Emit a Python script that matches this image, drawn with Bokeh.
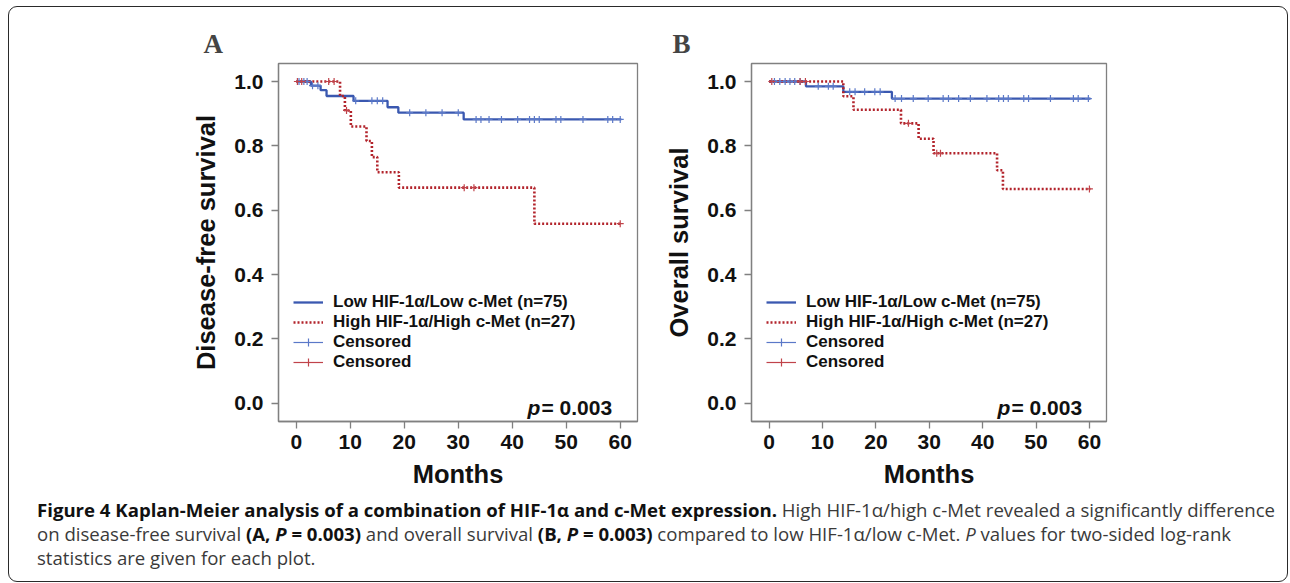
import math
from bokeh.plotting import figure
from bokeh.models import (Legend, LegendItem, Label, Div, Spacer,
                          FixedTicker, NumeralTickFormatter, Range1d)
from bokeh.layouts import column, row
from bokeh.embed import file_html
from bokeh.resources import INLINE

# ---------------- data ----------------
month_ticks = [0, 10, 20, 30, 40, 50, 60]
surv_ticks = [0.0, 0.2, 0.4, 0.6, 0.8, 1.0]

label_low = "Low HIF-1\u03b1/Low c-Met (n=75)"
label_high = "High HIF-1\u03b1/High c-Met (n=27)"
label_cens = "Censored"
p_text = "= 0.003"

# Panel A: disease-free survival
A_low_t = [0, 2.7, 4.5, 5.6, 10.6, 16.9, 18.9, 31.0, 60.2]
A_low_s = [1.0, 0.987, 0.973, 0.955, 0.940, 0.920, 0.903, 0.882, 0.882]
A_low_ct = [0.5, 1.4, 2.0, 3.0, 4.0, 11.0, 14.0, 15.0, 16.0, 21.0, 24.0, 27.0, 30.0,
            33.3, 34.2, 35.7, 38.0, 41.0, 43.2, 44.1, 45.0, 48.1, 49.0, 53.1, 57.7, 58.6, 60.0]
A_low_cs = [1.0, 1.0, 1.0, 0.987, 0.987, 0.940, 0.940, 0.940, 0.940, 0.903, 0.903, 0.903, 0.903,
            0.882, 0.882, 0.882, 0.882, 0.882, 0.882, 0.882, 0.882, 0.882, 0.882, 0.882, 0.882, 0.882, 0.882]
A_high_t = [0, 8.1, 9.0, 10.1, 13.0, 14.0, 15.0, 19.0, 44.1, 60.2]
A_high_s = [1.0, 0.955, 0.910, 0.860, 0.815, 0.765, 0.718, 0.670, 0.558, 0.558]
A_high_ct = [0.2, 1.0, 6.0, 7.0, 9.3, 31.1, 32.9, 60.0]
A_high_cs = [1.0, 1.0, 1.0, 1.0, 0.910, 0.670, 0.670, 0.558]

# Panel B: overall survival
B_low_t = [0, 6.9, 13.9, 23.0, 60.2]
B_low_s = [1.0, 0.985, 0.968, 0.947, 0.947]
B_low_ct = [1.0, 2.0, 3.0, 3.9, 4.8, 5.8, 9.2, 11.1, 12.0, 15.1, 16.1, 17.9, 19.8, 20.8,
            23.6, 24.8, 27.0, 29.8, 32.6, 33.6, 35.5, 37.7, 40.8, 43.0, 43.9, 44.8, 47.7,
            48.6, 52.7, 57.0, 57.9, 59.8]
B_low_cs = [1.0, 1.0, 1.0, 1.0, 1.0, 1.0, 0.985, 0.985, 0.985, 0.968, 0.968, 0.968, 0.968, 0.968,
            0.947, 0.947, 0.947, 0.947, 0.947, 0.947, 0.947, 0.947, 0.947, 0.947, 0.947, 0.947, 0.947,
            0.947, 0.947, 0.947, 0.947, 0.947]
B_high_t = [0, 13.9, 15.8, 24.7, 28.0, 30.8, 42.7, 43.8, 60.2]
B_high_s = [1.0, 0.954, 0.912, 0.870, 0.822, 0.777, 0.724, 0.666, 0.666]
B_high_ct = [0.5, 5.8, 6.8, 26.1, 31.4, 32.1, 60.0]
B_high_cs = [1.0, 1.0, 1.0, 0.870, 0.777, 0.777, 0.666]

BLUE = "#3a58b0"
BLUE_C = "#5a78c8"
RED = "#b2232b"
RED_C = "#c0434a"
GRID = "#808080"
FONT = "Liberation Sans"


def km_panel(title, ylabel, low_t, low_s, low_ct, low_cs, high_t, high_s, high_ct, high_cs,
             frame_w, title_offset):
    p = figure(width=90 + frame_w + 10, height=56 + 358 + 80,
               x_range=Range1d(-3.3, 63.2), y_range=Range1d(-0.057, 1.056),
               output_backend="svg", toolbar_location=None,
               min_border_left=90, min_border_right=10, min_border_top=56, min_border_bottom=80)
    p.grid.visible = False
    p.background_fill_color = "white"
    p.border_fill_color = "white"
    p.outline_line_color = GRID
    p.outline_line_width = 1.3

    p.title.text = title
    p.title.align = "left"
    p.title.offset = title_offset
    p.title.text_font = "Liberation Serif"
    p.title.text_font_style = "bold"
    p.title.text_font_size = "27px"
    p.title.standoff = 9

    for ax in (p.xaxis[0], p.yaxis[0]):
        ax.axis_line_color = GRID
        ax.axis_line_width = 1.3
        ax.major_tick_line_color = GRID
        ax.major_tick_line_width = 1.3
        ax.major_tick_out = 7
        ax.major_tick_in = 0
        ax.minor_tick_line_color = None
        ax.major_label_text_font = FONT
        ax.major_label_text_font_style = "bold"
        ax.major_label_text_font_size = "21px"
        ax.major_label_text_color = "#111111"
        ax.axis_label_text_font = FONT
        ax.axis_label_text_font_style = "bold"
        ax.axis_label_text_font_size = "25.5px"
        ax.axis_label_text_color = "#111111"

    p.xaxis.ticker = FixedTicker(ticks=month_ticks)
    p.yaxis.ticker = FixedTicker(ticks=surv_ticks)
    p.yaxis.formatter = NumeralTickFormatter(format="0.0")
    p.xaxis.axis_label = "Months"
    p.yaxis.axis_label = ylabel
    p.xaxis.major_label_standoff = 6
    p.yaxis.major_label_standoff = 8
    p.xaxis.axis_label_standoff = 8
    p.yaxis.axis_label_standoff = 11

    r_low = p.step(x=low_t, y=low_s, mode="after", line_color=BLUE, line_width=2.3)
    r_high = p.step(x=high_t, y=high_s, mode="after", line_color=RED, line_width=2.6,
                    line_dash="2 2")
    c_low = p.scatter(x=low_ct, y=low_cs, marker="cross", size=7, line_color=BLUE_C, line_width=1.2)
    c_high = p.scatter(x=high_ct, y=high_cs, marker="cross", size=7, line_color=RED_C, line_width=1.2)
    d_low = p.line(x=[math.nan], y=[math.nan], line_color=BLUE_C, line_width=1.2)
    d_high = p.line(x=[math.nan], y=[math.nan], line_color=RED_C, line_width=1.2)

    legend = Legend(items=[
        LegendItem(label=label_low, renderers=[r_low]),
        LegendItem(label=label_high, renderers=[r_high]),
        LegendItem(label=label_cens, renderers=[d_low, c_low]),
        LegendItem(label=label_cens, renderers=[d_high, c_high]),
    ], location=(15, 49))
    legend.padding = 0
    legend.margin = 0
    legend.spacing = 0
    legend.border_line_color = None
    legend.background_fill_alpha = 0
    legend.glyph_width = 30
    legend.glyph_height = 20
    legend.label_height = 20
    legend.label_standoff = 10
    legend.label_text_font = FONT
    legend.label_text_font_style = "bold"
    legend.label_text_font_size = "17px"
    legend.label_text_color = "#111111"
    p.add_layout(legend, "center")

    p.add_layout(Label(x=45.2, y=-0.012, text="p", text_align="right", text_baseline="alphabetic",
                       text_font=FONT, text_font_style="bold italic", text_font_size="21px",
                       text_color="#111111"))
    p.add_layout(Label(x=45.4, y=-0.012, text=p_text, text_align="left", text_baseline="alphabetic",
                       text_font=FONT, text_font_style="bold", text_font_size="21px",
                       text_color="#111111"))
    return p


pA = km_panel("A", "Disease-free survival", A_low_t, A_low_s, A_low_ct, A_low_cs,
              A_high_t, A_high_s, A_high_ct, A_high_cs, 359, -75)
pB = km_panel("B", "Overall survival", B_low_t, B_low_s, B_low_ct, B_low_cs,
              B_high_t, B_high_s, B_high_ct, B_high_cs, 355, -79)

caption_html = (
    "<b style='color:#111'>Figure 4 Kaplan-Meier analysis of a combination of HIF-1\u03b1 and c-Met expression.</b> "
    "High HIF-1\u03b1/high c-Met revealed a significantly difference<br>"
    "on disease-free survival <b style='color:#111'>(A, <i>P</i> = 0.003)</b> and overall survival "
    "<b style='color:#111'>(B, <i>P</i> = 0.003)</b> compared to low HIF-1\u03b1/low c-Met. "
    "<i>P</i> values for two-sided log-rank<br>"
    "statistics are given for each plot."
)
cap = Div(text=caption_html, width=1268, height=78,
          styles={"font-family": "'Open Sans'", "font-size": "18.6px", "line-height": "23.8px",
                  "color": "#3a3a3a", "white-space": "nowrap", "padding-left": "23px",
                  "margin-top": "-3px"})

top = row(Spacer(width=179, height=494), pA, Spacer(width=14, height=494), pB)
layout = column(top, cap, margin=(6, 0, 0, 8),
                styles={"border": "1.5px solid #2a2a2a", "border-radius": "9px",
                        "background-color": "white"})

open("out.html", "w").write(file_html(layout, INLINE))
